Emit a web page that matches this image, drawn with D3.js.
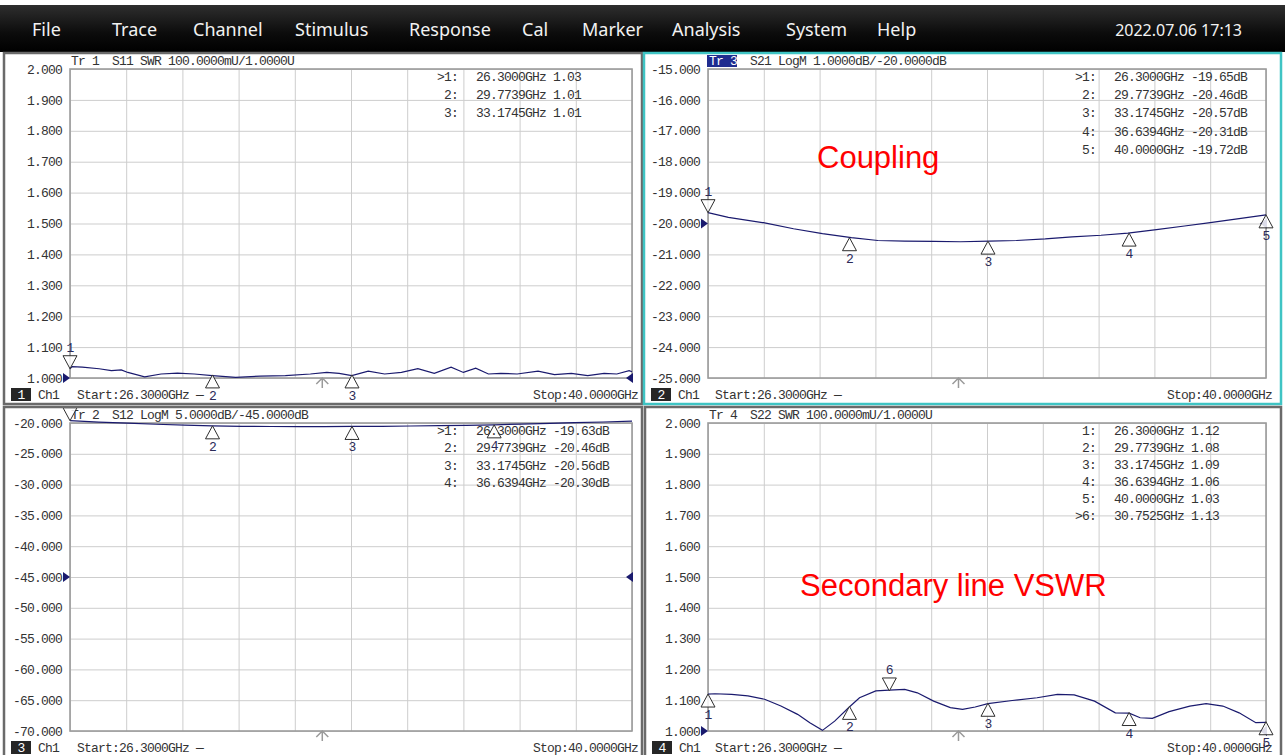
<!DOCTYPE html>
<html>
<head>
<meta charset="utf-8">
<script src="https://cdn.jsdelivr.net/npm/d3@7"></script>
<style>
html, body { margin: 0; padding: 0; background: #fff; overflow: hidden; }
svg { display: block; }
</style>
</head>
<body>
<div id="chart"></div>
<script>
// ---- menu ----
const menuItems = ['File', 'Trace', 'Channel', 'Stimulus', 'Response', 'Cal', 'Marker', 'Analysis', 'System', 'Help'];
const menuX = [32, 112, 193, 295, 409, 522, 582, 672, 786, 877];
const dateText = '2022.07.06 17:13';

// ---- frequency axis (GHz) ----
const freqStart = 26.3;
const freqStop = 40.0;
const freqGrid = [26.3, 27.67, 29.04, 30.41, 31.78, 33.15, 34.52, 35.89, 37.26, 38.63, 40.0];
const freqCursor = 32.45;

// ---- y tick labels ----
const swrTicks = [1.0, 1.1, 1.2, 1.3, 1.4, 1.5, 1.6, 1.7, 1.8, 1.9, 2.0];
const s21Ticks = [-25, -24, -23, -22, -21, -20, -19, -18, -17, -16, -15];
const s12Ticks = [-70, -65, -60, -55, -50, -45, -40, -35, -30, -25, -20];

// ---- traces ----
const s11Freq = [26.30, 26.35, 26.60, 27.01, 27.31, 27.55, 27.71, 28.12, 28.52, 28.92, 29.33, 29.77, 30.34, 30.94, 31.55, 32.16, 32.56, 32.86, 33.17, 33.57, 33.97, 34.38, 34.78, 35.18, 35.59, 35.89, 36.19, 36.50, 36.80, 37.20, 37.71, 38.11, 38.52, 38.92, 39.32, 39.63, 39.93, 40.00];
const s11Val  = [1.030, 1.037, 1.035, 1.030, 1.024, 1.026, 1.018, 1.004, 1.013, 1.016, 1.013, 1.008, 1.002, 1.006, 1.008, 1.013, 1.018, 1.015, 1.008, 1.022, 1.013, 1.018, 1.030, 1.015, 1.035, 1.018, 1.032, 1.013, 1.015, 1.013, 1.022, 1.011, 1.015, 1.008, 1.015, 1.013, 1.024, 1.020];

const s21Freq = [26.30, 26.80, 27.69, 28.40, 29.11, 29.82, 30.47, 31.13, 31.84, 32.50, 33.21, 33.87, 34.58, 35.24, 35.95, 36.61, 37.31, 38.00, 38.63, 39.34, 40.00];
const s21Val  = [-19.65, -19.80, -19.98, -20.17, -20.33, -20.46, -20.55, -20.57, -20.58, -20.59, -20.57, -20.55, -20.50, -20.43, -20.38, -20.31, -20.20, -20.08, -19.97, -19.84, -19.72];

const s12Freq = [26.30, 27.00, 27.70, 28.40, 29.10, 29.77, 30.50, 31.20, 31.90, 32.50, 33.17, 33.90, 34.60, 35.30, 35.95, 36.64, 37.30, 38.00, 38.60, 39.30, 40.00];
const s12Val  = [-19.63, -19.85, -20.02, -20.20, -20.34, -20.46, -20.55, -20.57, -20.58, -20.59, -20.56, -20.54, -20.49, -20.42, -20.37, -20.30, -20.18, -20.06, -19.95, -19.84, -19.71];

const s22Freq = [26.30, 26.47, 26.88, 27.28, 27.69, 28.09, 28.50, 28.80, 29.11, 29.41, 29.77, 30.02, 30.42, 30.75, 31.13, 31.44, 31.84, 32.25, 32.55, 32.86, 33.17, 33.77, 34.38, 34.88, 35.29, 35.79, 36.30, 36.64, 36.91, 37.21, 37.62, 38.13, 38.53, 38.94, 39.34, 39.75, 40.00];
const s22Val  = [1.120, 1.121, 1.119, 1.114, 1.103, 1.081, 1.054, 1.027, 1.002, 1.032, 1.078, 1.108, 1.130, 1.133, 1.135, 1.124, 1.097, 1.076, 1.070, 1.078, 1.089, 1.099, 1.108, 1.119, 1.117, 1.097, 1.059, 1.058, 1.043, 1.041, 1.063, 1.081, 1.089, 1.081, 1.059, 1.027, 1.028];

// ---- markers ----
const s11MarkF = [26.3, 29.7739, 33.1745];
const s11MarkV = [1.03, 1.01, 1.01];
const s11MarkDir = ['above', 'below', 'below'];

const s21MarkF = [26.3, 29.7739, 33.1745, 36.6394, 40.0];
const s21MarkV = [-19.65, -20.46, -20.57, -20.31, -19.72];
const s21MarkDir = ['above', 'below', 'below', 'below', 'below'];

const s12MarkF = [26.3, 29.7739, 33.1745, 36.6394];
const s12MarkV = [-19.63, -20.46, -20.56, -20.30];
const s12MarkDir = ['above', 'below', 'below', 'below'];

const s22MarkF = [26.3, 29.7739, 33.1745, 36.6394, 40.0, 30.7525];
const s22MarkV = [1.12, 1.08, 1.09, 1.06, 1.03, 1.13];
const s22MarkDir = ['below', 'below', 'below', 'below', 'below', 'above'];

const W = 1285, H = 755;
const MONO = '"Liberation Mono", "DejaVu Sans Mono", monospace';
const TRACE = '#1a1a6e';

const panels = [
    { id: 'tl', box: [4, 53, 638, 351], plot: [70, 69, 632, 378], border: '#6a6a6a', tr: '1', ch: '1',
      header: 'S11 SWR 100.0000mU/1.0000U', freq: s11Freq, val: s11Val, dom: [1, 2], ticks: swrTicks, ref: 1.0,
      mF: s11MarkF, mV: s11MarkV, mDir: s11MarkDir, active: 0, unit: '', rowStep: 18.2, highlight: false },
    { id: 'tr', box: [644, 53, 637, 351], plot: [708, 69, 1266, 378], border: '#3fc4c4', tr: '3', ch: '2',
      header: 'S21 LogM 1.0000dB/-20.0000dB', freq: s21Freq, val: s21Val, dom: [-25, -15], ticks: s21Ticks, ref: -20,
      mF: s21MarkF, mV: s21MarkV, mDir: s21MarkDir, active: 0, unit: 'dB', rowStep: 18.2, highlight: true },
    { id: 'bl', box: [4, 407, 638, 352], plot: [70, 423, 632, 731], border: '#6a6a6a', tr: '2', ch: '3',
      header: 'S12 LogM 5.0000dB/-45.0000dB', freq: s12Freq, val: s12Val, dom: [-70, -20], ticks: s12Ticks, ref: -45,
      mF: s12MarkF, mV: s12MarkV, mDir: s12MarkDir, active: 0, unit: 'dB', rowStep: 17.3, highlight: false },
    { id: 'br', box: [645, 407, 636, 352], plot: [708, 423, 1266, 731], border: '#6a6a6a', tr: '4', ch: '4',
      header: 'S22 SWR 100.0000mU/1.0000U', freq: s22Freq, val: s22Val, dom: [1, 2], ticks: swrTicks, ref: 1.0,
      mF: s22MarkF, mV: s22MarkV, mDir: s22MarkDir, active: 5, unit: '', rowStep: 17.0, highlight: false }
];

const svg = d3.select('#chart')
    .append('svg')
    .attr('width', W)
    .attr('height', H);

const defs = svg.append('defs');
const grad = defs.append('linearGradient')
    .attr('id', 'menuGrad')
    .attr('x1', 0).attr('y1', 0).attr('x2', 0).attr('y2', 1);
grad.append('stop').attr('offset', '0%').attr('stop-color', '#2e2e2e');
grad.append('stop').attr('offset', '60%').attr('stop-color', '#0c0c0c');
grad.append('stop').attr('offset', '100%').attr('stop-color', '#000');

svg.append('rect').attr('width', W).attr('height', H).attr('fill', '#fff');

// menu bar
svg.append('rect')
    .attr('x', 0).attr('y', 5)
    .attr('width', W).attr('height', 47)
    .attr('fill', 'url(#menuGrad)');

svg.selectAll('text.menu')
    .data(menuItems)
    .enter()
    .append('text')
    .attr('class', 'menu')
    .attr('x', (d, i) => menuX[i])
    .attr('y', 36)
    .attr('fill', '#f2f2f2')
    .attr('font-family', '"Noto Sans", "Open Sans", sans-serif')
    .attr('font-size', 18)
    .text(d => d);

svg.append('text')
    .attr('x', 1242).attr('y', 36)
    .attr('text-anchor', 'end')
    .attr('fill', '#f2f2f2')
    .attr('font-family', '"Noto Sans", "Open Sans", sans-serif')
    .attr('font-size', 16)
    .text(dateText);

function mono(sel, size) {
    return sel.attr('font-family', MONO)
        .attr('font-size', size || 13)
        .attr('letter-spacing', -0.8);
}

panels.forEach(p => {
    const [bx, by, bw, bh] = p.box;
    const [left, top, right, bottom] = p.plot;
    const w = right - left, h = bottom - top;

    defs.append('clipPath').attr('id', 'clip-' + p.id)
        .append('rect').attr('x', bx).attr('y', by).attr('width', bw).attr('height', bh);

    const g = svg.append('g').attr('clip-path', `url(#clip-${p.id})`);

    g.append('rect')
        .attr('x', bx).attr('y', by)
        .attr('width', bw).attr('height', bh)
        .attr('fill', '#fff');

    const x = d3.scaleLinear().domain([freqStart, freqStop]).range([left, right]);
    const y = d3.scaleLinear().domain(p.dom).range([bottom, top]);

    // vertical grid
    const gx = g.append('g')
        .attr('transform', `translate(0,${bottom})`)
        .call(d3.axisBottom(x).tickValues(freqGrid).tickSize(-h).tickFormat(''));
    gx.select('.domain').remove();
    gx.selectAll('line').attr('stroke', '#cdcdcd');

    // horizontal grid + labels
    const gy = g.append('g')
        .attr('transform', `translate(${left},0)`)
        .call(d3.axisLeft(y).tickValues(p.ticks).tickSize(-w).tickPadding(8).tickFormat(d => d.toFixed(3)));
    gy.select('.domain').remove();
    gy.selectAll('line').attr('stroke', '#cdcdcd');
    mono(gy.selectAll('text'), 13).attr('fill', '#333');

    // plot frame
    g.append('rect')
        .attr('x', left).attr('y', top)
        .attr('width', w).attr('height', h)
        .attr('fill', 'none')
        .attr('stroke', '#9c9c9c')
        .attr('stroke-width', 1.6);

    // header
    if (p.highlight) {
        g.append('rect')
            .attr('x', left - 1).attr('y', top - 14)
            .attr('width', 30).attr('height', 12)
            .attr('fill', '#1f2c8f');
    }
    mono(g.append('text'), 13)
        .attr('x', left + 1).attr('y', top - 4)
        .attr('fill', p.highlight ? '#fff' : '#333')
        .text('Tr ' + p.tr);
    mono(g.append('text'), 13)
        .attr('x', left + 42).attr('y', top - 4)
        .attr('fill', '#333')
        .text(p.header);

    // footer
    g.append('rect')
        .attr('x', bx + 7).attr('y', bottom + 10)
        .attr('width', 20).attr('height', 13)
        .attr('fill', '#262626');
    mono(g.append('text'), 13)
        .attr('x', bx + 17).attr('y', bottom + 21)
        .attr('text-anchor', 'middle')
        .attr('fill', '#fff')
        .text(p.ch);
    mono(g.append('text'), 13)
        .attr('x', bx + 34).attr('y', bottom + 21)
        .attr('fill', '#333')
        .text('Ch1');
    mono(g.append('text'), 13)
        .attr('x', left + 7).attr('y', bottom + 21)
        .attr('fill', '#333')
        .text('Start:26.3000GHz \u2014');
    mono(g.append('text'), 13)
        .attr('x', right + 6).attr('y', bottom + 21)
        .attr('text-anchor', 'end')
        .attr('fill', '#333')
        .text('Stop:40.0000GHz');

    // cursor arrow at bottom
    const cx = x(freqCursor);
    g.append('path')
        .attr('d', `M${cx},${bottom + 10}V${bottom}M${cx - 6},${bottom + 6}L${cx},${bottom}L${cx + 6},${bottom + 6}`)
        .attr('fill', 'none')
        .attr('stroke', '#9a9a9a')
        .attr('stroke-width', 1.5);

    // reference level arrows
    const ry = y(p.ref);
    g.append('path')
        .attr('d', `M${left - 7},${ry - 5}L${left},${ry}L${left - 7},${ry + 5}Z`)
        .attr('fill', TRACE);
    g.append('path')
        .attr('d', `M${right + 1},${ry - 5}L${right - 6},${ry}L${right + 1},${ry + 5}Z`)
        .attr('fill', TRACE);

    // trace
    const pts = p.freq.map((f, i) => [f, p.val[i]]);
    const line = d3.line().x(d => x(d[0])).y(d => y(d[1]));
    g.append('path')
        .datum(pts)
        .attr('d', line)
        .attr('fill', 'none')
        .attr('stroke', TRACE)
        .attr('stroke-width', 1.2);

    // markers
    p.mF.forEach((f, i) => {
        const mx = x(f), my = y(p.mV[i]);
        const up = p.mDir[i] === 'above';
        const s = up ? -1 : 1;
        g.append('path')
            .attr('d', `M${mx},${my}L${mx - 7},${my + s * 13}L${mx + 7},${my + s * 13}Z`)
            .attr('fill', '#fff')
            .attr('fill-opacity', 0.85)
            .attr('stroke', '#2e2e2e')
            .attr('stroke-width', 1);
        mono(g.append('text'), 13)
            .attr('x', mx).attr('y', up ? my - 17 : my + 25)
            .attr('text-anchor', 'middle')
            .attr('fill', '#2b2b58')
            .text(i + 1);
    });

    // marker table
    p.mF.forEach((f, i) => {
        const ty = top + 12 + i * p.rowStep;
        mono(g.append('text'), 13)
            .attr('x', left + 388).attr('y', ty)
            .attr('text-anchor', 'end')
            .attr('fill', '#333')
            .text((i === p.active ? '>' : '') + (i + 1) + ':');
        mono(g.append('text'), 13)
            .attr('x', left + 406).attr('y', ty)
            .attr('fill', '#333')
            .text(f.toFixed(4) + 'GHz ' + p.mV[i].toFixed(2) + p.unit);
    });

    // panel border
    svg.append('rect')
        .attr('x', bx).attr('y', by)
        .attr('width', bw).attr('height', bh)
        .attr('fill', 'none')
        .attr('stroke', p.border)
        .attr('stroke-width', 2.5);
});

// annotations
svg.append('text')
    .attr('x', 817).attr('y', 168)
    .attr('fill', '#ff0000')
    .attr('font-family', '"Liberation Sans", Arial, sans-serif')
    .attr('font-size', 31)
    .text('Coupling');
svg.append('text')
    .attr('x', 800).attr('y', 596)
    .attr('fill', '#ff0000')
    .attr('font-family', '"Liberation Sans", Arial, sans-serif')
    .attr('font-size', 31)
    .text('Secondary line VSWR');
</script>
</body>
</html>
